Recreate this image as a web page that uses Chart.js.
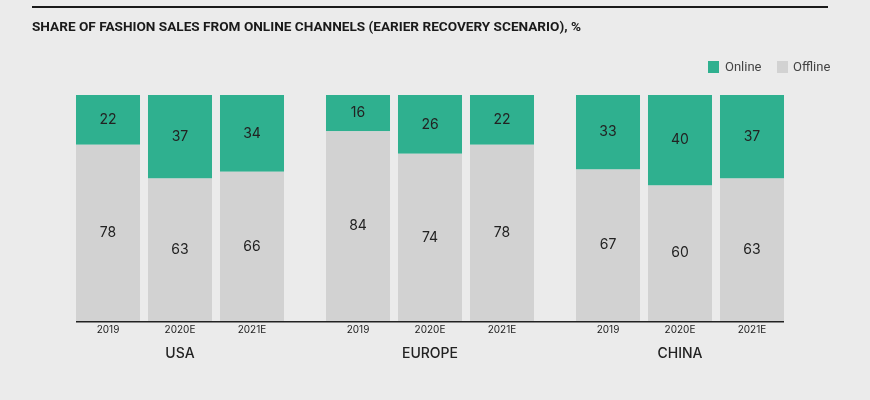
<!DOCTYPE html>
<html><head><meta charset="utf-8">
<script src="https://cdn.jsdelivr.net/npm/chart.js@4"></script>
<style>html,body{margin:0;background:#ebebeb;}#w{width:870px;height:400px;}</style>
</head><body><div id="w"><canvas id="c"></canvas></div>
<script>
const regions = ['USA','EUROPE','CHINA'];
const years = ['2019','2020E','2021E'];
const online = { '2019':[22,16,33], '2020E':[37,26,40], '2021E':[34,22,37] };
const offline = { '2019':[78,84,67], '2020E':[63,74,60], '2021E':[66,78,63] };
const title = 'SHARE OF FASHION SALES FROM ONLINE CHANNELS (EARIER RECOVERY SCENARIO), %';
const GREEN = '#2fb08f', GRAY = '#d2d2d2';
const datasets = [];
years.forEach(y => {
  datasets.push({label:'Offline', data:offline[y], stack:y, backgroundColor:GRAY});
  datasets.push({label:'Online', data:online[y], stack:y, backgroundColor:GREEN});
});
const CF = "'Liberation Sans Narrow','Roboto',sans-serif";
const deco = {
  id:'deco',
  afterDatasetsDraw(chart){
    const ctx = chart.ctx, ca = chart.chartArea;
    ctx.save();
    ctx.fillStyle='#1a1a1a'; ctx.fillRect(32,6,796,2);
    ctx.font = "bold 13.6px "+CF; ctx.textBaseline='middle'; ctx.textAlign='left';
    ctx.fillText(title,32,28);
    ctx.font = "13px "+CF; ctx.fillStyle=GREEN; ctx.fillRect(708,61,11,12);
    ctx.fillStyle='#444'; ctx.fillText('Online',725,67.5);
    ctx.fillStyle=GRAY; ctx.fillRect(777,61,11,12);
    ctx.fillStyle='#444'; ctx.fillText('Offline',793,67.5);
    ctx.textAlign='center';
    ctx.font = "14px 'Inter','Roboto',sans-serif"; ctx.fillStyle='#222';
    chart.data.datasets.forEach((ds,i)=>{
      chart.getDatasetMeta(i).data.forEach((el,j)=>{
        ctx.fillText(String(ds.data[j]), el.x, (el.y+el.base)/2);
      });
    });
    ctx.fillStyle='#222'; ctx.fillRect(76,ca.bottom,708,1.5);
    ctx.font = "10px 'Inter','Roboto',sans-serif";
    years.forEach((y,k)=>{
      const mm = chart.getDatasetMeta(k*2);
      mm.data.forEach(el=>ctx.fillText(y, el.x, 330));
    });
    ctx.font = "500 14px 'Inter','Roboto',sans-serif";
    regions.forEach((r,j)=>{
      ctx.fillText(r, chart.scales.x.getPixelForValue(j), 354);
    });
    ctx.restore();
  }
};
new Chart(document.getElementById('c'),{
  type:'bar',
  data:{labels:regions, datasets},
  options:{
    responsive:true, maintainAspectRatio:false, animation:false,
    layout:{padding:{left:55,right:65,top:95,bottom:79}},
    datasets:{bar:{categoryPercentage:0.864, barPercentage:0.889}},
    scales:{
      x:{display:false, stacked:true},
      y:{display:false, stacked:true, min:0, max:100}
    },
    plugins:{legend:{display:false}, tooltip:{enabled:false}}
  },
  plugins:[deco]
});
</script></body></html>
